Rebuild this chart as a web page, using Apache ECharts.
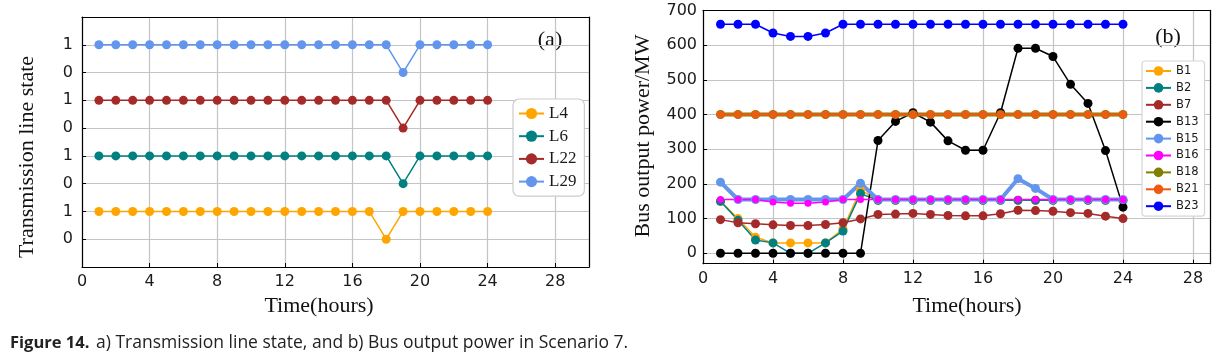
<!DOCTYPE html>
<html>
<head>
<meta charset="utf-8">
<script src="https://cdn.jsdelivr.net/npm/echarts@6/dist/echarts.min.js"></script>
<style>html,body{margin:0;padding:0;background:#fff;}#c{width:1224px;height:354px;}</style>
</head>
<body>
<div id="c"></div>
<script>
// ---- data ----
const hours = [1,2,3,4,5,6,7,8,9,10,11,12,13,14,15,16,17,18,19,20,21,22,23,24];
const xTicks = [0,4,8,12,16,20,24,28];
// panel (a): line states (0/1)
const L4  = [1,1,1,1,1,1,1,1,1,1,1,1,1,1,1,1,1,0,1,1,1,1,1,1];
const L6  = [1,1,1,1,1,1,1,1,1,1,1,1,1,1,1,1,1,1,0,1,1,1,1,1];
const L22 = [1,1,1,1,1,1,1,1,1,1,1,1,1,1,1,1,1,1,0,1,1,1,1,1];
const L29 = [1,1,1,1,1,1,1,1,1,1,1,1,1,1,1,1,1,1,0,1,1,1,1,1];
const lineOffsets = [0,2,4,6];
// panel (b): bus output power (MW)
const B1  = [150,100,46,30,30,30,30,70,183,153,153,153,153,153,153,153,153,153,153,153,153,153,153,153];
const B2  = [150,95,38,30,0,0,30,64,172,153,153,153,153,153,153,153,153,153,153,153,153,153,153,153];
const B7  = [97,88,85,82,80,80,83,88,99,112,113,115,112,109,108,108,114,124,123,121,117,115,107,100];
const B13 = [0,0,0,0,0,0,0,0,0,325,380,405,378,324,297,297,405,591,591,567,487,432,296,133];
const B15 = [205,155,155,155,155,155,155,155,202,155,155,155,155,155,155,155,155,215,187,155,155,155,155,155];
const B16 = [155,155,155,148,144,144,148,155,155,155,155,155,155,155,155,155,155,155,155,155,155,155,155,155];
const B18 = [400,400,400,400,400,400,400,400,400,400,400,400,400,400,400,400,400,400,400,400,400,400,400,400];
const B21 = [400,400,400,400,400,400,400,400,400,400,400,400,400,400,400,400,400,400,400,400,400,400,400,400];
const B23 = [660,660,660,635,625,625,635,660,660,660,660,660,660,660,660,660,660,660,660,660,660,660,660,660];
const powerTicks = [0,100,200,300,400,500,600,700];

const chart = echarts.init(document.getElementById('c'), null, {renderer:'canvas'});
const sans = 'DejaVu Sans';
const serif = 'Liberation Serif';
const pair = (arr, off) => hours.map((h,i)=>[h, arr[i] + (off||0)]);

function lineSeries(name, data, color, xi, yi, width, size) {
  return {
    name, type:'line', xAxisIndex:xi, yAxisIndex:yi, data,
    symbol:'circle', symbolSize:size||9, showSymbol:true,
    lineStyle:{color, width:width||1.5},
    itemStyle:{color},
    emphasis:{disabled:true},
    animation:false
  };
}

const gridLine = {show:true, lineStyle:{color:'#c4c4c4', width:1.2}};
const tickStyle = {show:true, inside:true, length:4, lineStyle:{color:'#000', width:1}};
const axLine = {show:true, onZero:false, lineStyle:{color:'#000', width:1.2}};
const labStyle = {fontFamily:sans, fontSize:16, color:'#1a1a1a'};

const option = {
  animation:false,
  backgroundColor:'#fff',
  grid:[
    {left:82, top:17, width:507, height:250},
    {left:703, top:10.4, width:507.5, height:253.3}
  ],
  xAxis:[
    {type:'value', gridIndex:0, min:0, max:30, interval:4,
     axisLine:axLine, axisTick:tickStyle, splitLine:gridLine,
     axisLabel:Object.assign({margin:7, showMaxLabel:false}, labStyle)},
    {type:'value', gridIndex:1, min:0, max:29, interval:4,
     axisLine:axLine, axisTick:tickStyle, splitLine:gridLine,
     axisLabel:Object.assign({margin:7, showMaxLabel:false}, labStyle)},
    {type:'value', gridIndex:0, position:'top', min:0, max:30, z:5,
     axisLine:axLine, axisTick:{show:false}, axisLabel:{show:false}, splitLine:{show:false}},
    {type:'value', gridIndex:1, position:'top', min:0, max:29, z:5,
     axisLine:axLine, axisTick:{show:false}, axisLabel:{show:false}, splitLine:{show:false}}
  ],
  yAxis:[
    {type:'value', gridIndex:0, min:-1, max:8, interval:1,
     axisLine:axLine, axisTick:tickStyle, splitLine:gridLine,
     axisLabel:Object.assign({margin:9, formatter:v => (v<0||v>7) ? '' : (v%2===1 ? '1' : '0')}, labStyle)},
    {type:'value', gridIndex:1, min:-30, max:700,
     axisLine:axLine,
     axisTick:Object.assign({}, tickStyle, {customValues:powerTicks}),
     splitLine:gridLine,
     axisLabel:Object.assign({margin:6, customValues:powerTicks}, labStyle)},
    {type:'value', gridIndex:0, position:'right', min:-1, max:8, z:5,
     axisLine:axLine, axisTick:{show:false}, axisLabel:{show:false}, splitLine:{show:false}},
    {type:'value', gridIndex:1, position:'right', min:-30, max:700, z:5,
     axisLine:axLine, axisTick:{show:false}, axisLabel:{show:false}, splitLine:{show:false}}
  ],
  legend:[
    {data:['L4','L6','L22','L29'], orient:'vertical', left:513, top:99,
     padding:[6,8,6,5], itemWidth:25, itemHeight:14, itemGap:5.7,
     backgroundColor:'#fff', borderColor:'#cccccc', borderWidth:1.2, borderRadius:6,
     textStyle:{fontFamily:serif, fontSize:17, color:'#1a1a1a', lineHeight:14}},
    {data:['B1','B2','B7','B13','B15','B16','B18','B21','B23'], orient:'vertical', left:1142, top:61,
     padding:[4,6,4,3], itemWidth:25, itemHeight:12, itemGap:4.9,
     backgroundColor:'#fff', borderColor:'#d6d6d6', borderWidth:1.2, borderRadius:3,
     textStyle:{fontFamily:sans, fontSize:11.5, color:'#1a1a1a', lineHeight:12}}
  ],
  series:[
    lineSeries('L4',  pair(L4,  lineOffsets[0]), '#FFA500', 0, 0),
    lineSeries('L6',  pair(L6,  lineOffsets[1]), '#008080', 0, 0),
    lineSeries('L22', pair(L22, lineOffsets[2]), '#A52A2A', 0, 0),
    lineSeries('L29', pair(L29, lineOffsets[3]), '#6495ED', 0, 0),
    lineSeries('B1',  pair(B1),  '#FFA500', 1, 1, 1.5, 9),
    lineSeries('B2',  pair(B2),  '#008080', 1, 1, 1.5, 9),
    lineSeries('B7',  pair(B7),  '#A52A2A', 1, 1, 1.5, 9),
    lineSeries('B13', pair(B13), '#000000', 1, 1, 1.5, 9),
    lineSeries('B15', pair(B15), '#6495ED', 1, 1, 4, 9),
    lineSeries('B16', pair(B16), '#FF00FF', 1, 1, 1.5, 7),
    lineSeries('B18', pair(B18), '#808000', 1, 1, 4, 9),
    lineSeries('B21', pair(B21), '#EE5A12', 1, 1, 2.5, 8),
    lineSeries('B23', pair(B23), '#0000FF', 1, 1, 1.5, 9)
  ],
  graphic:[
    {type:'text', x:27, y:157, rotation:Math.PI/2, style:{text:'Transmission line state', font:'22px "Liberation Serif"', fill:'#111', align:'center', verticalAlign:'middle', textAlign:'center', textVerticalAlign:'middle'}},
    {type:'text', x:319, y:306, style:{text:'Time(hours)', font:'22px "Liberation Serif"', fill:'#111', align:'center', verticalAlign:'middle', textAlign:'center', textVerticalAlign:'middle'}},
    {type:'text', x:643, y:136, rotation:Math.PI/2, style:{text:'Bus output power/MW', font:'22px "Liberation Serif"', fill:'#111', align:'center', verticalAlign:'middle', textAlign:'center', textVerticalAlign:'middle'}},
    {type:'text', x:967, y:306, style:{text:'Time(hours)', font:'22px "Liberation Serif"', fill:'#111', align:'center', verticalAlign:'middle', textAlign:'center', textVerticalAlign:'middle'}},
    {type:'text', x:550, y:40, style:{text:'(a)', font:'22px "Liberation Serif"', fill:'#111', align:'center', verticalAlign:'middle', textAlign:'center', textVerticalAlign:'middle'}},
    {type:'text', x:1168, y:37, style:{text:'(b)', font:'22px "Liberation Serif"', fill:'#111', align:'center', verticalAlign:'middle', textAlign:'center', textVerticalAlign:'middle'}},
    {type:'text', x:10, y:343, style:{text:'Figure 14.', font:'bold 16.5px "Open Sans"', fill:'#222', align:'left', verticalAlign:'middle', textAlign:'left', textVerticalAlign:'middle'}},
    {type:'text', x:96, y:343, style:{text:'a) Transmission line state, and b) Bus output power in Scenario 7.', font:'17.5px "Open Sans"', fill:'#222', align:'left', verticalAlign:'middle', textAlign:'left', textVerticalAlign:'middle'}}
  ]
};
chart.setOption(option);
</script>
</body>
</html>
